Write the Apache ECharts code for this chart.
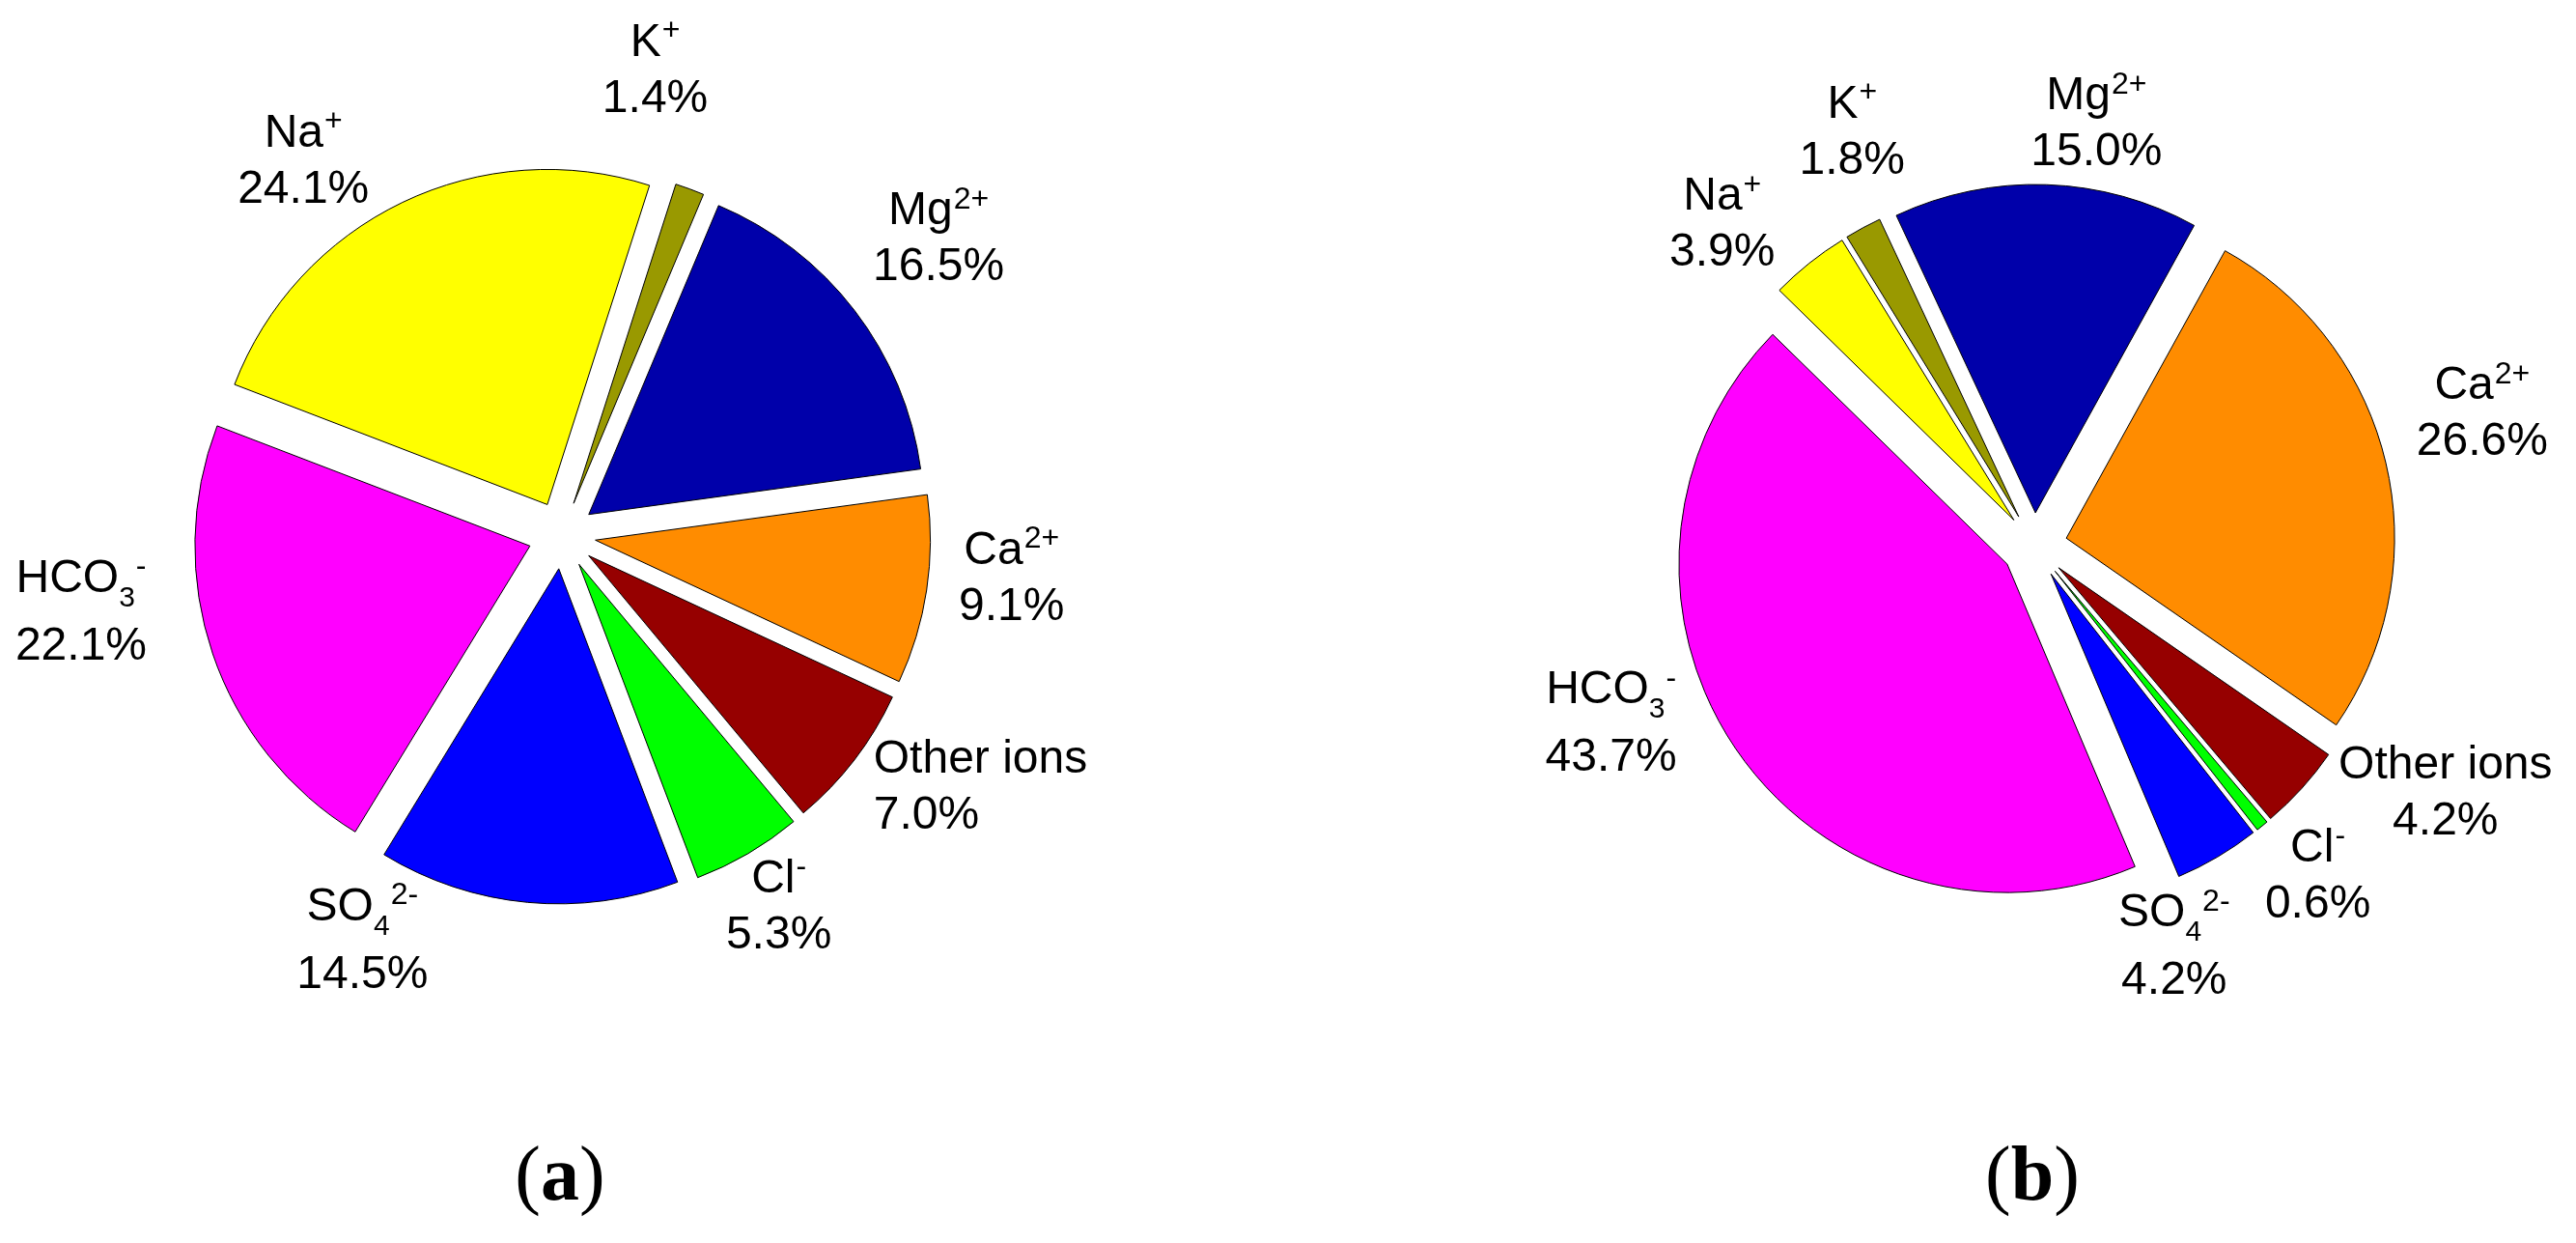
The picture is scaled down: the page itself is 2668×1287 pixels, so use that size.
<!DOCTYPE html>
<html>
<head>
<meta charset="utf-8">
<script src="https://cdn.jsdelivr.net/npm/echarts@6/dist/echarts.min.js"></script>
<style>
  html, body { margin: 0; padding: 0; background: #fff; }
  #main { width: 2668px; height: 1287px; }
</style>
</head>
<body>
<div id="main"></div>
<script>
// ion shares (%) for the two water samples, clockwise from the start angle
const ions = ['Na+', 'K+', 'Mg2+', 'Ca2+', 'Other ions', 'Cl-', 'SO42-', 'HCO3-'];
const shareA = [24.1, 1.4, 16.5, 9.1, 7.0, 5.3, 14.5, 22.1];
const shareB = [3.9, 1.8, 15.0, 26.6, 4.2, 0.6, 4.2, 43.7];

const colors = ['#ffff00', '#999900', '#0000aa', '#ff8c00', '#960000', '#00ff00', '#0000ff', '#ff00ff'];

// rich-text markup for the ion names (sub/superscripts)
const ionLabel = {
  'Na+': '{a|Na}{sup|+}',
  'K+': '{a|K}{sup|+}',
  'Mg2+': '{a|Mg}{sup|2+}',
  'Ca2+': '{a|Ca}{sup|2+}',
  'Other ions': '{a|Other ions}',
  'Cl-': '{a|Cl}{sup|-}',
  'SO42-': '{s|SO}{sub|4}{sup|2-}',
  'HCO3-': '{s|HCO}{sub|3}{sup|-}'
};

// labels in the source were hand placed: offsets from the default spot
const nudgeA = [[-65, 37], [-66, -40], [18, -20], [2, -24], [-49, -24], [-12, -19], [-163, -46], [-54, -70]];
const nudgeB = [[-37, 27], [29, -23], [49, 23], [17, -31], [86, -51], [4, -13], [-88, 21], [-59, -73]];
const alignA = ['center', 'center', 'center', 'center', 'left', 'center', 'center', 'center'];

const font = 'Liberation Sans';
const rich = {
  a: { fontFamily: font, fontSize: 48, lineHeight: 57, verticalAlign: 'top', color: '#000', padding: [4, 0, 0, 0] },
  s: { fontFamily: font, fontSize: 48, lineHeight: 69, verticalAlign: 'top', color: '#000', padding: [4, 0, 0, 0] },
  p: { fontFamily: font, fontSize: 48, lineHeight: 58, color: '#000' },
  sup: { fontFamily: font, fontSize: 32, lineHeight: 57, verticalAlign: 'top', color: '#000', padding: [0, 0, 0, 1] },
  sub: { fontFamily: font, fontSize: 30, lineHeight: 69, verticalAlign: 'top', color: '#000', padding: [33, 0, 0, 0] }
};

function makePie(values, center, radius, startAngle, nudge, align) {
  return {
    type: 'pie',
    center: center,
    radius: radius,
    startAngle: startAngle,
    clockwise: true,
    selectedMode: 'multiple',
    selectedOffset: Math.round(radius * 0.1),
    avoidLabelOverlap: false,
    itemStyle: { borderColor: '#000', borderWidth: 1 },
    emphasis: { disabled: true },
    select: { itemStyle: { borderColor: '#000', borderWidth: 1 } },
    label: {
      position: 'outside',
      distanceToLabelLine: 0,
      formatter: (p) => ionLabel[p.name] + '\n{p|' + p.value.toFixed(1) + '%}',
      rich: rich
    },
    labelLine: { show: false, length: Math.round(radius * 0.25), length2: 0 },
    labelLayout: (p) => ({
      dx: nudge[p.dataIndex][0],
      dy: nudge[p.dataIndex][1],
      align: align ? align[p.dataIndex] : 'center'
    }),
    data: ions.map((name, i) => ({
      name: name,
      value: values[i],
      selected: true,
      itemStyle: { color: colors[i] }
    }))
  };
}

const myChart = echarts.init(document.getElementById('main'));

const capRich = {
  r: { fontFamily: 'Liberation Serif', fontSize: 80, color: '#000' },
  b: { fontFamily: 'Liberation Serif', fontSize: 80, fontWeight: 'bold', color: '#000' }
};

const option = {
  backgroundColor: '#fff',
  animation: false,
  graphic: [
    { type: 'text', x: 580, y: 1221, style: { text: '{r|(}{b|a}{r|)}', rich: capRich, align: 'center', verticalAlign: 'middle' } },
    { type: 'text', x: 2105, y: 1221, style: { text: '{r|(}{b|b}{r|)}', rich: capRich, align: 'center', verticalAlign: 'middle' } }
  ],
  series: [
    makePie(shareA, [582, 554], 347, 159, nudgeA, alignA),
    makePie(shareB, [2107, 565], 340, 135.6, nudgeB, null)
  ]
};

myChart.setOption(option);
</script>
</body>
</html>
